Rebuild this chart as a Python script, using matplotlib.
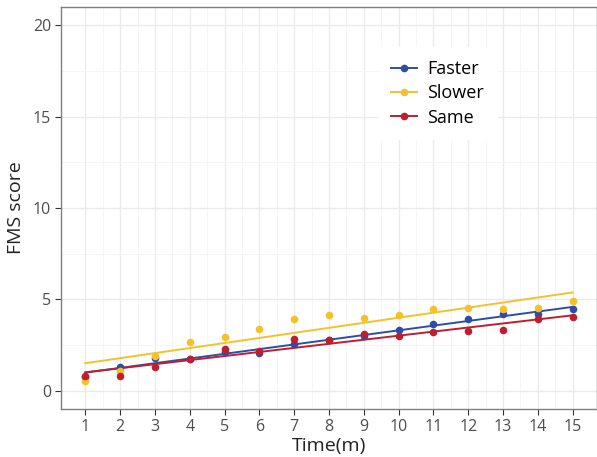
import numpy as np
import matplotlib as mpl
mpl.use('Agg')
import matplotlib.pyplot as plt

plt.rcParams['font.family'] = ['Open Sans', 'DejaVu Sans']

time_m = np.arange(1, 16)
faster = [0.75, 1.30, 1.78, 1.74, 2.12, 2.07, 2.54, 2.77, 3.00, 3.33, 3.66, 3.93, 4.18, 4.22, 4.47]
slower = [0.55, 1.09, 1.90, 2.68, 2.95, 3.40, 3.93, 4.13, 3.98, 4.13, 4.46, 4.51, 4.46, 4.53, 4.93]
same = [0.78, 0.82, 1.29, 1.74, 2.28, 2.19, 2.81, 2.77, 3.08, 2.99, 3.19, 3.28, 3.33, 3.90, 4.06]

groups = ['Faster', 'Slower', 'Same']
colors = ['#2F4DA6', '#F4C12C', '#BF1E2E']
x_ticks = list(range(1, 16))
y_ticks = [0, 5, 10, 15, 20]

fig = plt.figure(figsize=(5.97, 4.57), dpi=100)
ax = fig.add_axes([61 / 597, 48 / 457, 536 / 597, 402 / 457])

for name, vals, col in zip(groups, [faster, slower, same], colors):
    vals = np.array(vals)
    ax.scatter(time_m, vals, s=30, color=col, zorder=3, linewidths=0)
    k, b = np.polyfit(time_m, vals, 1)
    ax.plot(time_m, k * time_m + b, color=col, lw=1.4, zorder=2)
    # legend handle only
    ax.plot([], [], color=col, lw=1.4, marker='o', ms=4.5, label=name)

ax.set_xlim(0.3, 15.7)
ax.set_ylim(-1, 21)
ax.set_xticks(x_ticks)
ax.set_yticks(y_ticks)
ax.set_xticks(np.arange(1.5, 15, 1), minor=True)
ax.set_yticks([2.5, 7.5, 12.5, 17.5], minor=True)
ax.grid(which='major', color='#EBEBEB', lw=1.0)
ax.grid(which='minor', color='#F4F4F4', lw=0.6)
ax.set_axisbelow(True)

for s in ax.spines.values():
    s.set_color('#7F7F7F')
    s.set_linewidth(1.0)
ax.tick_params(which='major', length=4, color='#333333', labelsize=11.5,
               labelcolor='#4D4D4D', pad=3)
ax.tick_params(which='minor', length=0)

ax.set_xlabel('Time(m)', fontsize=14, color='#222222', labelpad=2)
ax.set_ylabel('FMS score', fontsize=14, color='#222222', labelpad=6)

leg = ax.legend(loc='upper left', bbox_to_anchor=(0.576, 0.922), frameon=True,
                fontsize=13, handlelength=1.4, handletextpad=0.6,
                labelspacing=0.35, borderpad=0.7)
leg.get_frame().set_edgecolor('white')
leg.get_frame().set_facecolor('white')
leg.get_frame().set_alpha(1)
leg.get_frame().set_boxstyle('square', pad=0)

fig.savefig('out.png', dpi=100)
